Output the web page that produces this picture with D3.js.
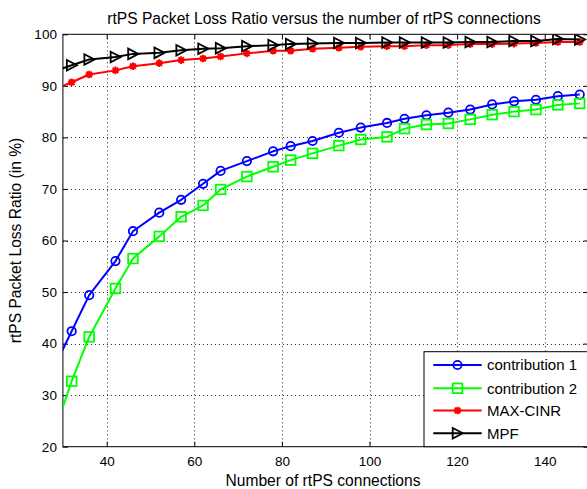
<!DOCTYPE html>
<html><head><meta charset="utf-8">
<script src="https://cdn.jsdelivr.net/npm/d3@7"></script>
<style>body{margin:0;background:#fff}svg{display:block}</style>
</head><body><svg id="c" width="587" height="489"></svg>
<script>
const connections = [28,32,36,42,46,52,57,62,66,72,78,82,87,93,98,104,108,113,118,123,128,133,138,143,148];
const contribution1 = [35.4,42.4,49.4,56.0,61.8,65.4,67.9,71.0,73.5,75.4,77.3,78.3,79.3,80.9,81.9,82.8,83.6,84.3,84.8,85.4,86.4,87.0,87.3,88.0,88.3];
const contribution2 = [22.7,32.7,41.3,50.7,56.5,60.8,64.6,66.8,69.9,72.4,74.3,75.6,76.9,78.4,79.6,80.1,81.7,82.5,82.7,83.5,84.4,85.0,85.4,86.3,86.6];
const maxCinr = [89.3,90.7,92.2,93.0,93.8,94.4,95.0,95.3,95.7,96.3,96.8,96.8,97.2,97.4,97.6,97.7,97.7,97.9,97.9,98.1,98.1,98.2,98.3,98.5,98.5];
const mpf = [92.8,94.0,95.1,95.6,96.2,96.4,96.9,97.2,97.3,97.7,97.9,98.1,98.2,98.3,98.3,98.4,98.4,98.4,98.4,98.5,98.5,98.7,98.7,99.1,99.0];
const seriesNames = ["contribution 1","contribution 2","MAX-CINR","MPF"];
const xTicks = [40,60,80,100,120,140];
const yTicks = [20,30,40,50,60,70,80,90,100];
const titleText = "rtPS Packet Loss Ratio versus the number of rtPS connections";
const xLabel = "Number of rtPS connections";
const yLabel = "rtPS Packet Loss Ratio (in %)";

const L = 62.9, R = 588.5, T = 34.3, B = 446.7;
const x = d3.scaleLinear().domain([30,150]).range([L,R]);
const y = d3.scaleLinear().domain([20,100]).range([B,T]);
const svg = d3.select("#c");
const font = "'Liberation Sans', Arial, sans-serif";

const series = [
  {name: seriesNames[0], values: contribution1, color: "#0000ff", marker: "circle"},
  {name: seriesNames[1], values: contribution2, color: "#00ff00", marker: "square"},
  {name: seriesNames[2], values: maxCinr, color: "#ff0000", marker: "star"},
  {name: seriesNames[3], values: mpf, color: "#000000", marker: "triangle"}
];

svg.append("defs").append("clipPath").attr("id","clip")
  .append("rect").attr("x",L).attr("y",T).attr("width",R-L).attr("height",B-T);

// grid
const grid = svg.append("g").attr("stroke","#222").attr("stroke-width",1).attr("stroke-dasharray","1,3");
grid.selectAll("line.gx").data(xTicks).join("line")
  .attr("x1",d=>Math.round(x(d))+0.5).attr("x2",d=>Math.round(x(d))+0.5).attr("y1",T).attr("y2",B);
grid.selectAll("line.gy").data(yTicks.filter(d=>d>20&&d<100)).join("line")
  .attr("y1",d=>Math.round(y(d))+0.5).attr("y2",d=>Math.round(y(d))+0.5).attr("x1",L).attr("x2",R);

// axes
const xAxis = svg.append("g").attr("transform",`translate(0,${B})`)
  .call(d3.axisBottom(x).tickValues(xTicks).tickSize(-5).tickPadding(10).tickSizeOuter(0));
const xAxisTop = svg.append("g").attr("transform",`translate(0,${T})`)
  .call(d3.axisTop(x).tickValues(xTicks).tickSize(-5).tickFormat("").tickSizeOuter(0));
const yAxis = svg.append("g").attr("transform",`translate(${L},0)`)
  .call(d3.axisLeft(y).tickValues(yTicks).tickSize(-5).tickPadding(6).tickSizeOuter(0));
const yAxisR = svg.append("g").attr("transform",`translate(${R},0)`)
  .call(d3.axisRight(y).tickValues(yTicks).tickSize(-5).tickFormat("").tickSizeOuter(0));
[xAxis,xAxisTop,yAxis,yAxisR].forEach(g=>{
  g.select(".domain").remove();
  g.selectAll("line").attr("stroke","#000");
  g.selectAll("text").attr("font-family",font).attr("font-size","13.5px").attr("fill","#000");
});
svg.append("rect").attr("x",L).attr("y",T).attr("width",R-L).attr("height",B-T)
  .attr("fill","none").attr("stroke","#000").attr("stroke-width",1);

// markers
function drawMarker(g, type, cx, cy, color){
  if(type==="circle"){
    g.append("circle").attr("cx",cx).attr("cy",cy).attr("r",4.2)
      .attr("fill","none").attr("stroke",color).attr("stroke-width",1.8);
  } else if(type==="square"){
    g.append("rect").attr("x",cx-4.8).attr("y",cy-4.8).attr("width",9.6).attr("height",9.6)
      .attr("fill","none").attr("stroke",color).attr("stroke-width",1.8);
  } else if(type==="triangle"){
    g.append("path").attr("d",`M${cx-4.8},${cy-5.3}L${cx+5.3},${cy}L${cx-4.8},${cy+5.3}Z`)
      .attr("fill","none").attr("stroke",color).attr("stroke-width",1.8);
  } else if(type==="star"){
    const r=3.8, d=r*0.72;
    g.append("path").attr("d",`M${cx-r},${cy}H${cx+r}M${cx},${cy-r}V${cy+r}M${cx-d},${cy-d}L${cx+d},${cy+d}M${cx-d},${cy+d}L${cx+d},${cy-d}`)
      .attr("fill","none").attr("stroke",color).attr("stroke-width",2);
  }
}

const plot = svg.append("g").attr("clip-path","url(#clip)");
const line = d3.line().x(d=>x(d[0])).y(d=>y(d[1]));
series.forEach(s=>{
  const pts = connections.map((c,i)=>[c,s.values[i]]);
  const g = plot.append("g");
  g.append("path").datum(pts).attr("d",line).attr("fill","none")
    .attr("stroke",s.color).attr("stroke-width",2).attr("stroke-linejoin","round");
  pts.forEach(p=>drawMarker(g, s.marker, x(p[0]), y(p[1]), s.color));
});

// legend
const lg = svg.append("g");
const lgX = 424, lgY = 351.7;
lg.append("rect").attr("x",lgX).attr("y",lgY).attr("width",R-lgX).attr("height",B-lgY)
  .attr("fill","#fff").attr("stroke","#000").attr("stroke-width",1);
const rowY = [365, 388.3, 410.5, 433.3];
series.forEach((s,i)=>{
  const yy = rowY[i];
  lg.append("line").attr("x1",433.3).attr("x2",481.7).attr("y1",yy).attr("y2",yy)
    .attr("stroke",s.color).attr("stroke-width",2);
  drawMarker(lg, s.marker, 457.5, yy, s.color);
  lg.append("text").attr("x",487).attr("y",yy).attr("dy","0.36em")
    .attr("font-family",font).attr("font-size","15px").text(s.name);
});

// titles
svg.append("text").attr("x",324).attr("y",24).attr("text-anchor","middle")
  .attr("font-family",font).attr("font-size","15.6px").text(titleText);
svg.append("text").attr("x",323).attr("y",486).attr("text-anchor","middle")
  .attr("font-family",font).attr("font-size","15.6px").text(xLabel);
svg.append("text").attr("transform",`translate(21,${(T+B)/2}) rotate(-90)`).attr("text-anchor","middle")
  .attr("font-family",font).attr("font-size","15.6px").text(yLabel);
</script></body></html>
